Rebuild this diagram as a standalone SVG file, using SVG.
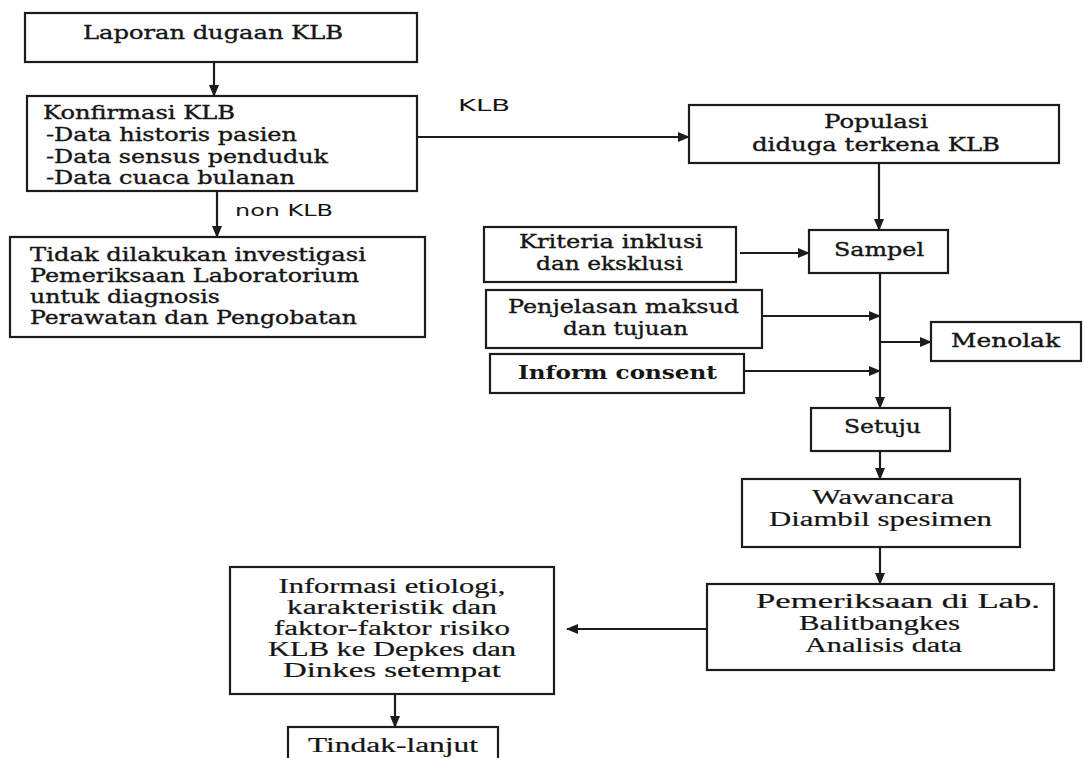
<svg xmlns="http://www.w3.org/2000/svg" width="1085" height="758" viewBox="0 0 1085 758">
<style>
.box{fill:#ffffff;stroke:#1c1c1c;stroke-width:2.2}
.t{font-family:"DejaVu Serif","Liberation Serif",serif;font-size:18px;fill:#151515;stroke:#151515;stroke-width:0.35}
.tb{font-family:"DejaVu Serif","Liberation Serif",serif;font-size:18px;font-weight:bold;fill:#151515}
.tl{font-family:"Liberation Serif","DejaVu Serif",serif;font-size:20px;fill:#151515;stroke:#151515;stroke-width:0.2}
.s{font-family:"DejaVu Sans","Liberation Sans",sans-serif;font-size:16px;fill:#151515}
.c{fill:none;stroke:#1c1c1c;stroke-width:2.2}
.a{marker-end:url(#ah)}
</style>
<defs>
<marker id="ah" markerUnits="userSpaceOnUse" markerWidth="12" markerHeight="10" refX="11" refY="5" orient="auto">
<path d="M0,0 L12,5 L0,10 z" fill="#1c1c1c"/>
</marker>
</defs>
<rect width="1085" height="758" fill="#ffffff"/>

<g id="connectors">
<line class="c a" x1="214" y1="62" x2="214" y2="96"/>
<line class="c a" x1="417" y1="137" x2="689" y2="137"/>
<line class="c a" x1="217" y1="191" x2="217" y2="237"/>
<line class="c a" x1="879" y1="163" x2="879" y2="230"/>
<line class="c a" x1="740" y1="253" x2="809" y2="253"/>
<line class="c a" x1="880" y1="273" x2="880" y2="408"/>
<line class="c a" x1="762" y1="316" x2="880" y2="316"/>
<line class="c a" x1="880" y1="342" x2="931" y2="342"/>
<line class="c a" x1="744" y1="371" x2="880" y2="371"/>
<line class="c a" x1="880" y1="451" x2="880" y2="479"/>
<line class="c a" x1="880" y1="547" x2="880" y2="584"/>
<line class="c a" x1="707" y1="629" x2="567" y2="629"/>
<line class="c a" x1="395" y1="694" x2="395" y2="727"/>
<text class="s" x="458" y="111" textLength="52" lengthAdjust="spacingAndGlyphs">KLB</text>
<text class="s" x="235" y="216" textLength="98" lengthAdjust="spacingAndGlyphs">non KLB</text>
</g>

<g id="laporan">
<rect class="box" x="25" y="13" width="392" height="49"/>
<text class="t" x="83" y="39" textLength="260" lengthAdjust="spacingAndGlyphs">Laporan dugaan KLB</text>
</g>

<g id="konfirmasi">
<rect class="box" x="27" y="96" width="390" height="95"/>
<text class="t" x="43" y="119" textLength="192" lengthAdjust="spacingAndGlyphs">Konfirmasi KLB</text>
<text class="t" x="46" y="141" textLength="251" lengthAdjust="spacingAndGlyphs">-Data historis pasien</text>
<text class="t" x="46" y="163" textLength="282" lengthAdjust="spacingAndGlyphs">-Data sensus penduduk</text>
<text class="t" x="46" y="184" textLength="249" lengthAdjust="spacingAndGlyphs">-Data cuaca bulanan</text>
</g>

<g id="tidak">
<rect class="box" x="10" y="237" width="415" height="100"/>
<text class="t" x="30" y="261" textLength="336" lengthAdjust="spacingAndGlyphs">Tidak dilakukan investigasi</text>
<text class="t" x="30" y="282" textLength="329" lengthAdjust="spacingAndGlyphs">Pemeriksaan Laboratorium</text>
<text class="t" x="30" y="303" textLength="190" lengthAdjust="spacingAndGlyphs">untuk diagnosis</text>
<text class="t" x="30" y="324" textLength="327" lengthAdjust="spacingAndGlyphs">Perawatan dan Pengobatan</text>
</g>

<g id="populasi">
<rect class="box" x="689" y="105" width="370" height="58"/>
<text class="t" x="824" y="128" textLength="104" lengthAdjust="spacingAndGlyphs">Populasi</text>
<text class="t" x="752" y="151" textLength="248" lengthAdjust="spacingAndGlyphs">diduga terkena KLB</text>
</g>

<g id="kriteria">
<rect class="box" x="484" y="227" width="252" height="55"/>
<text class="t" x="519" y="248" textLength="184" lengthAdjust="spacingAndGlyphs">Kriteria inklusi</text>
<text class="t" x="536" y="270" textLength="147" lengthAdjust="spacingAndGlyphs">dan eksklusi</text>
</g>

<g id="sampel">
<rect class="box" x="809" y="230" width="139" height="43"/>
<text class="t" x="834" y="256" textLength="90" lengthAdjust="spacingAndGlyphs">Sampel</text>
</g>

<g id="penjelasan">
<rect class="box" x="486" y="290" width="276" height="58"/>
<text class="t" x="508" y="313" textLength="231" lengthAdjust="spacingAndGlyphs">Penjelasan maksud</text>
<text class="t" x="563" y="335" textLength="125" lengthAdjust="spacingAndGlyphs">dan tujuan</text>
</g>

<g id="menolak">
<rect class="box" x="931" y="322" width="150" height="39"/>
<text class="t" x="951" y="347" textLength="109" lengthAdjust="spacingAndGlyphs">Menolak</text>
</g>

<g id="inform">
<rect class="box" x="490" y="354" width="254" height="39"/>
<text class="tb" x="518" y="379" textLength="199" lengthAdjust="spacingAndGlyphs">Inform consent</text>
</g>

<g id="setuju">
<rect class="box" x="811" y="408" width="139" height="43"/>
<text class="t" x="844" y="433" textLength="77" lengthAdjust="spacingAndGlyphs">Setuju</text>
</g>

<g id="wawancara">
<rect class="box" x="742" y="479" width="278" height="68"/>
<text class="tl" x="812" y="504" textLength="142" lengthAdjust="spacingAndGlyphs">Wawancara</text>
<text class="tl" x="769" y="526" textLength="223" lengthAdjust="spacingAndGlyphs">Diambil spesimen</text>
</g>

<g id="pemeriksaan">
<rect class="box" x="707" y="584" width="347" height="86"/>
<text class="tl" x="756" y="608" textLength="284" lengthAdjust="spacingAndGlyphs">Pemeriksaan di Lab.</text>
<text class="tl" x="799" y="630" textLength="161" lengthAdjust="spacingAndGlyphs">Balitbangkes</text>
<text class="tl" x="805" y="652" textLength="157" lengthAdjust="spacingAndGlyphs">Analisis data</text>
</g>

<g id="informasi">
<rect class="box" x="230" y="567" width="324" height="127"/>
<text class="tl" x="392" y="593" text-anchor="middle" textLength="227" lengthAdjust="spacingAndGlyphs">Informasi etiologi,</text>
<text class="tl" x="392" y="614" text-anchor="middle" textLength="210" lengthAdjust="spacingAndGlyphs">karakteristik dan</text>
<text class="tl" x="392" y="635" text-anchor="middle" textLength="236" lengthAdjust="spacingAndGlyphs">faktor-faktor risiko</text>
<text class="tl" x="392" y="656" text-anchor="middle" textLength="248" lengthAdjust="spacingAndGlyphs">KLB ke Depkes dan</text>
<text class="tl" x="392" y="677" text-anchor="middle" textLength="218" lengthAdjust="spacingAndGlyphs">Dinkes setempat</text>
</g>

<g id="tindak">
<rect class="box" x="288" y="727" width="210" height="40"/>
<text class="tl" x="308" y="752" textLength="170" lengthAdjust="spacingAndGlyphs">Tindak-lanjut</text>
</g>
</svg>
